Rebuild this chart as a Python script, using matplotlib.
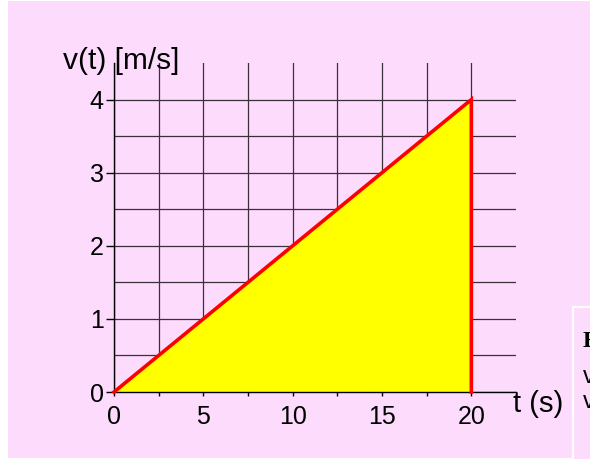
import matplotlib.pyplot as plt
from matplotlib.patches import Rectangle

# velocity profile: uniform acceleration from rest, then cut off at t = 20 s
t_vals = [0, 20, 20]
v_vals = [0, 4, 0]

x_major = [0, 5, 10, 15, 20]
x_minor = [2.5, 7.5, 12.5, 17.5]
y_major = [0, 1, 2, 3, 4]
y_minor = [0.5, 1.5, 2.5, 3.5]

pink = '#fddbfd'
plt.rcParams['font.family'] = ['Liberation Sans', 'DejaVu Sans']

fig = plt.figure(figsize=(5.9, 4.59), dpi=100)
W, H = 590, 459

# pink panel behind everything
fig.patches.append(Rectangle((8 / W, 1 / H), 1, (458 - 1) / H,
                             transform=fig.transFigure, facecolor=pink,
                             edgecolor='none', zorder=-10))

ax = fig.add_axes([114 / W, 67 / H, (516 - 114) / W, (396 - 67) / H])
ax.set_facecolor('none')
ax.set_xlim(0, 22.5)
ax.set_ylim(0, 4.5)

ax.set_xticks(x_major)
ax.set_xticks(x_minor, minor=True)
ax.set_yticks(y_major)
ax.set_yticks(y_minor, minor=True)

for s in ['top', 'right']:
    ax.spines[s].set_visible(False)
for s in ['left', 'bottom']:
    ax.spines[s].set_color('black')
    ax.spines[s].set_linewidth(1.0)

ax.tick_params(axis='y', which='major', length=6, width=1, pad=1.5,
               labelsize=18, colors='black')
ax.tick_params(axis='y', which='minor', length=0)
ax.tick_params(axis='x', which='both', length=3, width=1, pad=6,
               labelsize=18, colors='black')

ax.grid(True, which='both', color='#3a303a', linewidth=0.9, zorder=0)
ax.set_axisbelow(True)

ax.fill(t_vals, v_vals, color='#ffff00', zorder=2)
ax.plot(t_vals, v_vals, color='#ff0000', linewidth=2.6,
        solid_joinstyle='miter', zorder=3, clip_on=False)

fig.text(121 / W, 1 - 61 / H, 'v(t) [m/s]', fontsize=21.5,
         ha='center', va='center')
fig.text(538 / W, 1 - 404 / H, 't (s)', fontsize=21,
         ha='center', va='center')

# side note box, running off the edge of the canvas
fig.patches.append(Rectangle((573 / W, -0.05), 0.2, (459 - 307) / H + 0.05,
                             transform=fig.transFigure, facecolor=pink,
                             edgecolor='white', linewidth=1.6, zorder=-5))
fig.text(583 / W, 1 - 342 / H, 'Example', fontsize=17, fontweight='bold',
         family=['Liberation Serif', 'DejaVu Serif'], va='center', ha='left')
fig.text(583 / W, 1 - 377 / H, 'v = at', fontsize=17, va='center', ha='left')
fig.text(583 / W, 1 - 402 / H, 'v(20) = 4 m/s', fontsize=17,
         va='center', ha='left')

fig.savefig('out.png', dpi=100, facecolor='white')
